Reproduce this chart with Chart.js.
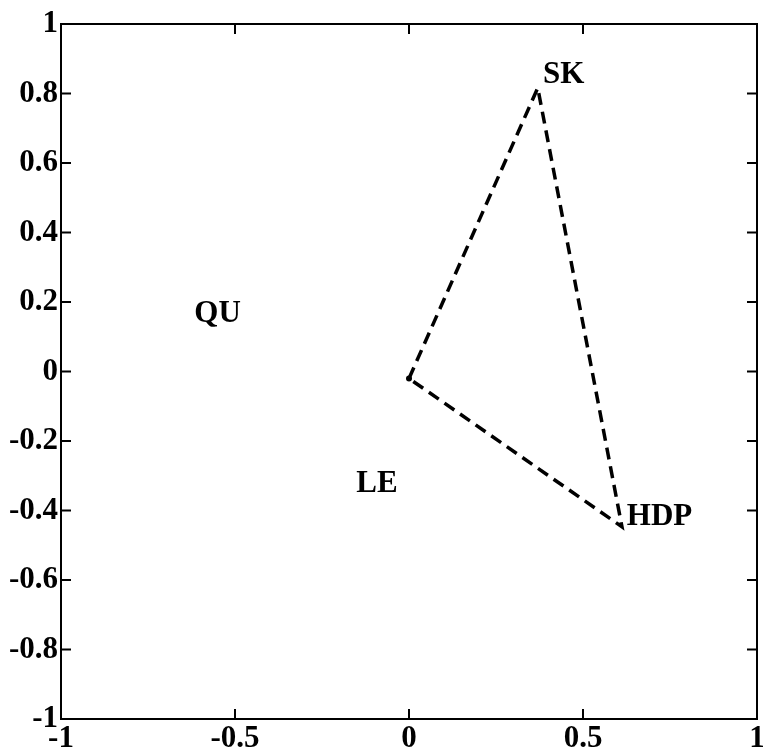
<!DOCTYPE html>
<html><head><meta charset="utf-8">
<script src="https://cdn.jsdelivr.net/npm/chart.js@4"></script>
<style>html,body{margin:0;padding:0;background:#fff}canvas{display:block}</style>
</head><body>
<canvas id="c" width="763" height="751"></canvas>
<script>
// Triangle (closed dashed polygon)
const triX = [0, 0.37, 0.612, 0];
const triY = [-0.02, 0.816, -0.447, -0.02];
// Text labels
const labelNames = ["SK", "HDP", "QU", "LE"];
const labelX = [0.385, 0.626, -0.55, -0.092];
const labelY = [0.852, -0.42, 0.165, -0.324];
const labelAlign = ["left", "left", "center", "center"];
// Ticks
const xTicks = [-1, -0.5, 0, 0.5, 1];
const yTicks = [-1, -0.8, -0.6, -0.4, -0.2, 0, 0.2, 0.4, 0.6, 0.8, 1];

const FONT = '"Liberation Serif", "Times New Roman", serif';

const boxPlugin = {
  id: 'box',
  afterDraw(chart) {
    const ctx = chart.ctx, a = chart.chartArea;
    const xs = chart.scales.x, ys = chart.scales.y;
    ctx.save();
    ctx.strokeStyle = '#000';
    ctx.lineWidth = 2;
    ctx.strokeRect(a.left, a.top, a.right - a.left, a.bottom - a.top);
    const L = 10;
    ctx.beginPath();
    xTicks.forEach(v => {
      const px = xs.getPixelForValue(v);
      ctx.moveTo(px, a.bottom); ctx.lineTo(px, a.bottom - L);
      ctx.moveTo(px, a.top); ctx.lineTo(px, a.top + L);
    });
    yTicks.forEach(v => {
      const py = ys.getPixelForValue(v);
      ctx.moveTo(a.left, py); ctx.lineTo(a.left + L, py);
      ctx.moveTo(a.right, py); ctx.lineTo(a.right - L, py);
    });
    ctx.stroke();
    // labels
    ctx.fillStyle = '#000';
    ctx.font = 'bold 31px ' + FONT;
    ctx.textBaseline = 'middle';
    labelNames.forEach((t, i) => {
      ctx.textAlign = labelAlign[i];
      ctx.fillText(t, xs.getPixelForValue(labelX[i]), ys.getPixelForValue(labelY[i]));
    });
    ctx.restore();
  }
};

new Chart(document.getElementById('c'), {
  type: 'scatter',
  data: {
    datasets: [{
      data: triX.map((x, i) => ({x, y: triY[i]})),
      showLine: true,
      borderColor: '#000',
      backgroundColor: '#000',
      borderWidth: 3.5,
      borderDash: [12, 7],
      pointRadius: [3, 0, 0, 0],
      pointBorderWidth: 0,
      fill: false,
      tension: 0
    }]
  },
  options: {
    responsive: false,
    animation: false,
    layout: {padding: {top: 24, right: 6, left: 0, bottom: 0}},
    plugins: {legend: {display: false}, tooltip: {enabled: false}},
    scales: {
      x: {
        type: 'linear', min: -1, max: 1,
        afterBuildTicks: s => { s.ticks = xTicks.map(v => ({value: v})); },
        afterFit: s => { s.height = 32; s.paddingLeft = 0; s.paddingRight = 0; },
        grid: {display: false, drawTicks: false},
        border: {display: false},
        ticks: {color: '#000', font: {family: FONT, size: 31, weight: 'bold'}, padding: 1, maxRotation: 0,
          callback: v => String(v)}
      },
      y: {
        type: 'linear', min: -1, max: 1,
        afterBuildTicks: s => { s.ticks = yTicks.map(v => ({value: v})); },
        afterFit: s => { s.width = 61; s.paddingTop = 0; s.paddingBottom = 0; },
        grid: {display: false, drawTicks: false},
        border: {display: false},
        ticks: {color: '#000', font: {family: FONT, size: 31, weight: 'bold'}, padding: 3,
          callback: v => String(Math.round(v * 10) / 10)}
      }
    }
  },
  plugins: [boxPlugin]
});
</script>
</body></html>
